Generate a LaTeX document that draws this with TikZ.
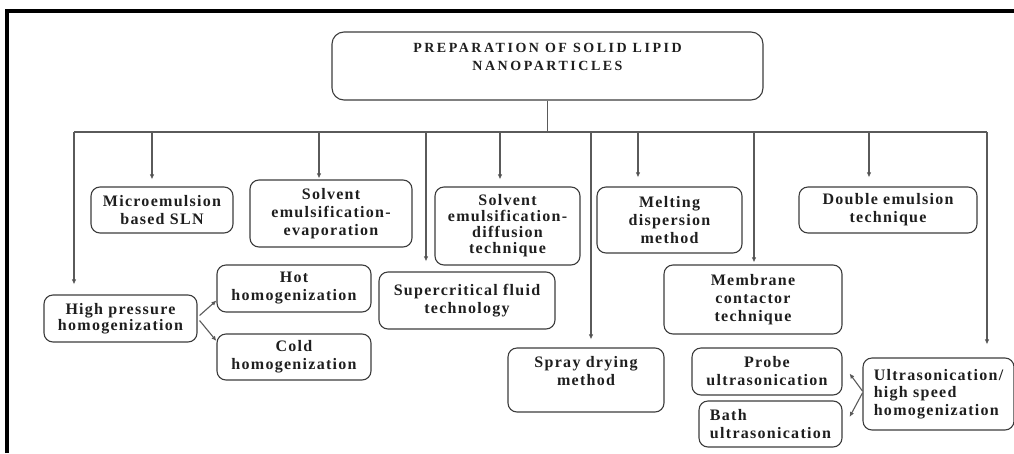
\documentclass[tikz,border=0pt]{standalone}
\usepackage{fontspec}
\setmainfont{Liberation Serif}
\newfontfamily\boxfont{Liberation Serif}[LetterSpace=8]
\newfontfamily\headfont{Liberation Serif}[LetterSpace=18]
\usetikzlibrary{arrows.meta,calc}
\definecolor{linegray}{HTML}{5A5A5A}
\definecolor{boxgray}{HTML}{3C3C3C}
\definecolor{txtgray}{HTML}{1E1E1E}

\begin{document}
\begin{tikzpicture}[x=1pt,y=-1pt,
    box/.style={draw=boxgray,line width=1.1pt,rounded corners=9pt,inner sep=0pt,align=center,text=txtgray,
      font=\boxfont\bfseries\fontsize{16}{18}\selectfont},
    arr/.style={draw=linegray,line width=1.1pt,-{Latex[length=5pt,width=4.5pt,fill=black]}}]
    \useasboundingbox (0,0) rectangle (1014,453);
    \draw[line width=3.6pt] (7,453) -- (7,11) -- (1014,11);

    \node[box,minimum width=431pt,minimum height=68pt,rounded corners=12pt,
      font=\headfont\bfseries\fontsize{14}{18}\selectfont] (prep) at (547.5,66) {PREPARATION OF SOLID LIPID\\NANOPARTICLES\\\mbox{}};

    \node[box,minimum width=142pt,minimum height=46pt] (micro) at (162,210) {Microemulsion\\based SLN};
    \node[box,minimum width=162pt,minimum height=67pt] (evap) at (331,213.5) {Solvent\\emulsification-\\evaporation};
    \node[box,minimum width=145pt,minimum height=78pt,font=\boxfont\bfseries\fontsize{16}{16}\selectfont] (diff) at (507.5,226) {Solvent\\emulsification-\\diffusion\\technique};
    \node[box,minimum width=145pt,minimum height=66pt] (melt) at (669.5,220) {Melting\\dispersion\\method};
    \node[box,minimum width=178pt,minimum height=46pt] (double) at (888,210) {Double emulsion\\technique};

    \node[box,minimum width=153pt,minimum height=47pt,font=\boxfont\bfseries\fontsize{16}{16.5}\selectfont] (hph) at (120.5,318.5) {High pressure\\homogenization};
    \node[box,minimum width=154pt,minimum height=47pt] (hot) at (294,288.5) {Hot\\homogenization};
    \node[box,minimum width=154pt,minimum height=46pt] (cold) at (294,357) {Cold\\homogenization};
    \node[box,minimum width=176pt,minimum height=57pt] (scf) at (467,300.5) {Supercritical fluid\\technology};
    \node[box,minimum width=156pt,minimum height=64pt] (spray) at (586,380) {Spray drying\\method\\\mbox{}};
    \node[box,minimum width=178pt,minimum height=69pt] (memb) at (753,299.5) {Membrane\\contactor\\technique};
    \node[box,minimum width=150pt,minimum height=47pt] (probe) at (767,371.5) {Probe\\ultrasonication};
    \node[box,minimum width=143pt,minimum height=46pt,align=left] (bath) at (770.5,424) {Bath\\ultrasonication};
    \node[box,minimum width=151pt,minimum height=72pt,align=left,font=\boxfont\bfseries\fontsize{16}{17.5}\selectfont] (ultra) at (938.5,394) {Ultrasonication/\\high speed\\homogenization};

    % bus
    \coordinate (b1) at (74,132);
    \coordinate (b2) at (152,132);
    \coordinate (b3) at (319,132);
    \coordinate (b4) at (426,132);
    \coordinate (b5) at (500,132);
    \coordinate (b6) at (591,132);
    \coordinate (b7) at (638,132);
    \coordinate (b8) at (754,132);
    \coordinate (b9) at (869,132);
    \coordinate (b10) at (987,132);
    \draw[linegray,line width=1.1pt] (prep.south) -- (prep.south |- b1);
    \draw[linegray,line width=1.1pt] (b1) -- (b10);

    \draw[arr,shorten >=10pt] (b1) -- (b1 |- hph.north);
    \draw[arr,shorten >=7pt] (b2) -- (b2 |- micro.north);
    \draw[arr,shorten >=1pt] (b3) -- (b3 |- evap.north);
    \draw[arr,shorten >=10pt] (b4) -- (b4 |- scf.north);
    \draw[arr,shorten >=7pt] (b5) -- (b5 |- diff.north);
    \draw[arr,shorten >=8pt] (b6) -- (b6 |- spray.north);
    \draw[arr,shorten >=9pt] (b7) -- (b7 |- melt.north);
    \draw[arr,shorten >=2pt] (b8) -- (b8 |- memb.north);
    \draw[arr,shorten >=9pt] (b9) -- (b9 |- double.north);
    \draw[arr,shorten >=13pt] (b10) -- (b10 |- ultra.north);

    \draw[arr] ($(hph.east)+(2,-3)$) -- ($(hot.west)+(0,12)$);
    \draw[arr] ($(hph.east)+(2,2)$) -- ($(cold.west)+(0,-16)$);
    \draw[arr] ($(ultra.west)+(0,-3)$) -- ($(probe.east)+(7,2)$);
    \draw[arr] ($(ultra.west)+(0,-1)$) -- ($(bath.east)+(7,-7)$);
\end{tikzpicture}
\end{document}
